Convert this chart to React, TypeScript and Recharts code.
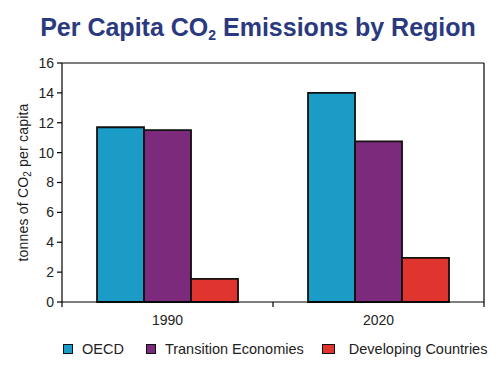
import { BarChart, Bar, XAxis, YAxis, Legend, CartesianGrid } from "recharts"

const years = ["1990", "2020"]
const oecd = [11.7, 14.0]
const transition = [11.5, 10.75]
const developing = [1.55, 2.95]
const yTicks = [0, 2, 4, 6, 8, 10, 12, 14, 16]

const series = [
  { key: "oecd", name: "OECD", color: "#1A9CC7" },
  { key: "transition", name: "Transition Economies", color: "#7B2A7C" },
  { key: "developing", name: "Developing Countries", color: "#E0352F" },
]

const data = years.map((year, i) => ({
  year,
  oecd: oecd[i],
  transition: transition[i],
  developing: developing[i],
}))

const W = 500
const H = 376
const M = { top: 63, right: 16, bottom: 12, left: 0 }
const Y_AXIS_W = 62
const BAND = (W - M.left - M.right - Y_AXIS_W) / years.length

const font = "Arial, 'Liberation Sans', sans-serif"
const textColor = "#222"

const XTick = (props: any) => {
  const { x, y, payload, index } = props
  const left = x - BAND / 2
  return (
    <g>
      <line x1={left} x2={left} y1={y - 8} y2={y - 3} stroke="#000" strokeWidth={1.2} />
      {index === years.length - 1 && (
        <line x1={x + BAND / 2} x2={x + BAND / 2} y1={y - 8} y2={y - 3} stroke="#000" strokeWidth={1.2} />
      )}
      <text x={x} y={y + 15} textAnchor="middle" fontSize={14} fill={textColor} fontFamily={font}>
        {payload.value}
      </text>
    </g>
  )
}

const YLabel = (props: any) => {
  const { viewBox } = props
  const cx = 28
  const cy = viewBox.y + viewBox.height / 2
  return (
    <text
      x={cx}
      y={cy}
      textAnchor="middle"
      transform={`rotate(-90 ${cx} ${cy})`}
      fontSize={14}
      letterSpacing={0.2}
      fill={textColor}
      fontFamily={font}
    >
      tonnes of CO<tspan baselineShift="-25%" fontSize={10}>2</tspan> per capita
    </text>
  )
}

const LegendContent = () => (
  <div
    style={{
      display: "flex",
      alignItems: "center",
      height: 30,
      width: 500,
      paddingLeft: 63,
      boxSizing: "border-box",
      whiteSpace: "nowrap",
      fontFamily: font,
      fontSize: 14.5,
      color: textColor,
    }}
  >
    {series.map((s, i) => (
      <div
        key={s.key}
        style={{ display: "flex", alignItems: "center", flexShrink: 0, marginRight: i === 0 ? 22 : 18 }}
      >
        <span
          style={{
            width: i === 2 ? 11 : 8,
            height: 8,
            flexShrink: 0,
            background: s.color,
            border: "1.5px solid #111",
            marginRight: i === 2 ? 14 : 9,
          }}
        />
        {s.name}
      </div>
    ))}
  </div>
)

export default function App() {
  return (
    <div style={{ position: "absolute", left: 0, top: 0, width: W, height: H, background: "#fff" }}>
      <div
        style={{
          position: "absolute",
          left: 0,
          top: 13,
          width: W,
          textAlign: "center",
          fontFamily: font,
          fontWeight: "bold",
          fontSize: 25,
          color: "#2B3A80",
          paddingLeft: 16,
          boxSizing: "border-box",
          whiteSpace: "nowrap",
        }}
      >
        Per Capita CO<sub style={{ fontSize: 14, verticalAlign: "-4px" }}>2</sub> Emissions by Region
      </div>
      <BarChart
        width={W}
        height={H}
        data={data}
        margin={M}
        barCategoryGap="16.6%"
        barGap={0}
      >
        <CartesianGrid
          stroke="#000"
          strokeWidth={1.2}
          horizontalCoordinatesGenerator={({ offset }: any) => [offset.top]}
          verticalCoordinatesGenerator={({ offset }: any) => [offset.left + offset.width]}
        />
        <XAxis
          dataKey="year"
          height={32}
          axisLine={{ stroke: "#000", strokeWidth: 1.2 }}
          tickLine={false}
          tick={<XTick />}
        />
        <YAxis
          width={Y_AXIS_W}
          domain={[0, 16]}
          ticks={yTicks}
          interval={0}
          tickSize={5}
          tickMargin={3}
          axisLine={{ stroke: "#000", strokeWidth: 1.2 }}
          tickLine={{ stroke: "#000", strokeWidth: 1.2 }}
          tick={{ fontSize: 14, fill: textColor, fontFamily: font }}
          label={<YLabel />}
        />
        <Legend
          verticalAlign="bottom"
          height={30}
          wrapperStyle={{ left: 0, width: 500 }}
          content={<LegendContent />}
        />
        {series.map((s) => (
          <Bar
            key={s.key}
            dataKey={s.key}
            name={s.name}
            fill={s.color}
            stroke="#111"
            strokeWidth={1.8}
            isAnimationActive={false}
          />
        ))}
      </BarChart>
    </div>
  )
}
